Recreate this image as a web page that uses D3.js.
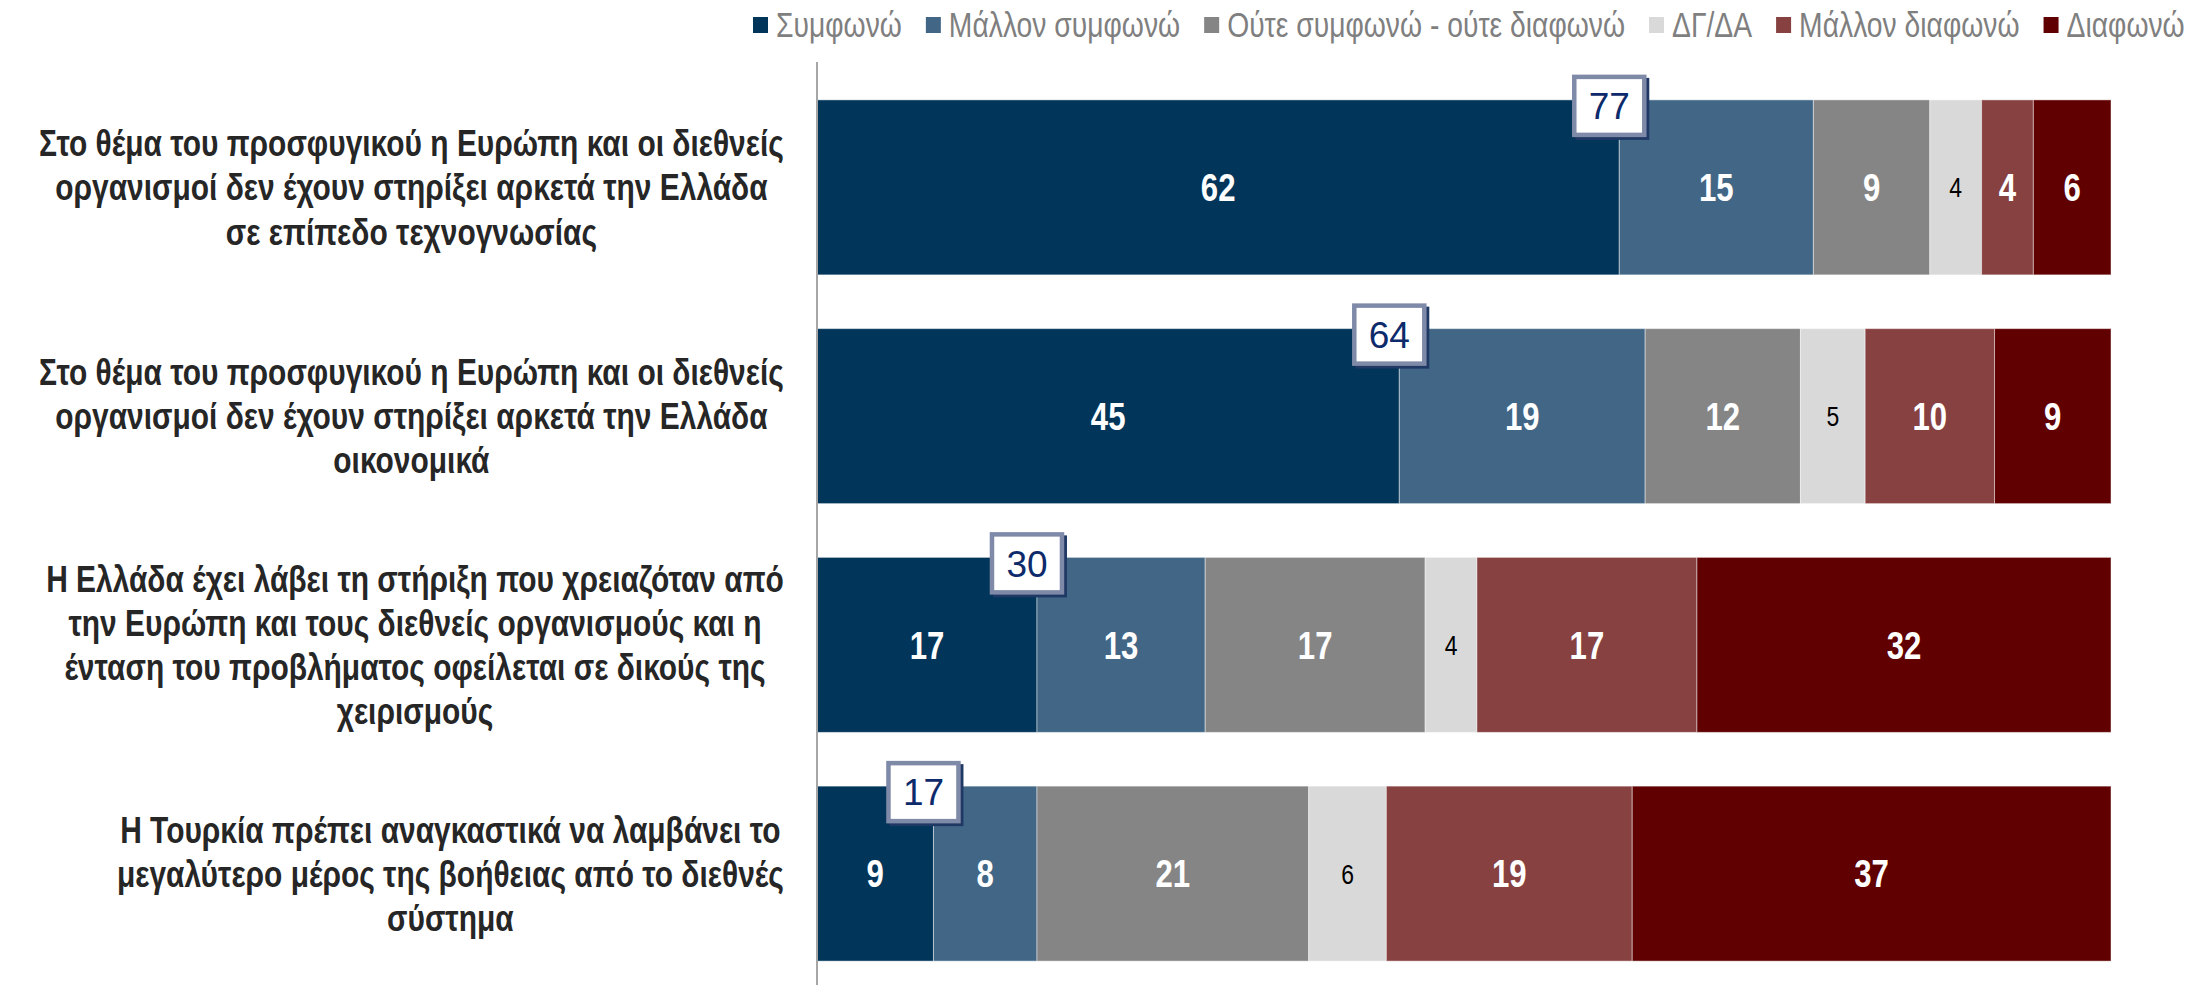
<!DOCTYPE html>
<html>
<head>
<meta charset="utf-8">
<script src="https://cdn.jsdelivr.net/npm/d3@7"></script>
<style>
  body { margin: 0; background: #fff; }
  svg { display: block; }
</style>
</head>
<body>
<div id="chart"></div>
<script>
// size of the picture
var width = 2186,
    height = 985;

// data
var series = ["Συμφωνώ", "Μάλλον συμφωνώ", "Ούτε συμφωνώ - ούτε διαφωνώ", "ΔΓ/ΔΑ", "Μάλλον διαφωνώ", "Διαφωνώ"];
var colors = ["#02355a", "#426786", "#858585", "#d9d9d9", "#884141", "#600000"];

var statements = [
    ["Στο θέμα του προσφυγικού η Ευρώπη και οι διεθνείς", "οργανισμοί δεν έχουν στηρίξει αρκετά την Ελλάδα", "σε επίπεδο τεχνογνωσίας"],
    ["Στο θέμα του προσφυγικού η Ευρώπη και οι διεθνείς", "οργανισμοί δεν έχουν στηρίξει αρκετά την Ελλάδα", "οικονομικά"],
    ["Η Ελλάδα έχει λάβει τη στήριξη που χρειαζόταν από", "την Ευρώπη και τους διεθνείς οργανισμούς και η", "ένταση του προβλήματος οφείλεται σε δικούς της", "χειρισμούς"],
    ["Η Τουρκία πρέπει αναγκαστικά να λαμβάνει το", "μεγαλύτερο μέρος της βοήθειας από το διεθνές", "σύστημα"]
];

var values = [
    [62, 15, 9, 4, 4, 6],
    [45, 19, 12, 5, 10, 9],
    [17, 13, 17, 4, 17, 32],
    [9, 8, 21, 6, 19, 37]
];

// total agreement shown in the callout box (Συμφωνώ + Μάλλον συμφωνώ)
var agreeTotals = [77, 64, 30, 17];

// no narrow font installed: squeeze Liberation Sans horizontally instead
var font = "'Liberation Sans', Arial, sans-serif";
var squeeze = 0.82;

var svg = d3.select("#chart").append("svg")
    .attr("width", width)
    .attr("height", height);

// scales
var x = d3.scaleLinear().domain([0, 100]).range([817, 2111]);
var y = d3.scaleBand()
    .domain(d3.range(statements.length))
    .range([73, 988])
    .paddingInner(0.235)
    .paddingOuter(0.1175);

// stack the rows
var rows = values.map(function (v, i) {
    var acc = 0;
    return v.map(function (d, j) {
        var seg = {row: i, key: j, x0: acc, x1: acc + d, value: d};
        acc += d;
        return seg;
    });
});

// bars
var gRow = svg.append("g").selectAll("g")
    .data(rows)
    .enter().append("g");

gRow.selectAll("rect")
    .data(function (d) { return d; })
    .enter().append("rect")
    .attr("x", function (d) { return x(d.x0); })
    .attr("y", function (d) { return y(d.row); })
    .attr("width", function (d) { return x(d.x1) - x(d.x0); })
    .attr("height", y.bandwidth())
    .attr("fill", function (d) { return colors[d.key]; })
    .attr("stroke", "rgba(255,255,255,0.45)")
    .attr("stroke-width", 1);

// value labels
gRow.selectAll("g.val")
    .data(function (d) { return d; })
    .enter().append("g")
    .attr("class", "val")
    .attr("transform", function (d) {
        return "translate(" + (x(d.x0) + x(d.x1)) / 2 + "," + (y(d.row) + y.bandwidth() / 2) + ") scale(" + squeeze + ",1)";
    })
    .append("text")
    .attr("dy", "0.36em")
    .attr("text-anchor", "middle")
    .style("font-family", font)
    .style("font-size", function (d) { return d.key === 3 ? "28px" : "38px"; })
    .style("font-weight", function (d) { return d.key === 3 ? "normal" : "bold"; })
    .attr("fill", function (d) { return d.key === 3 ? "#000" : "#fff"; })
    .text(function (d) { return d.value; });

// vertical axis line
svg.append("line")
    .attr("x1", x(0)).attr("x2", x(0))
    .attr("y1", 62).attr("y2", height)
    .attr("stroke", "#a6a6a6")
    .attr("stroke-width", 2);

// statement labels: block right-aligned, lines centred inside it
var lineH = 44;
var labelRight = 784;
statements.forEach(function (lines, i) {
    var cy = y(i) + y.bandwidth() / 2;
    var g = svg.append("g");
    var inner = g.append("g");
    var texts = inner.selectAll("text")
        .data(lines)
        .enter().append("text")
        .attr("x", 0)
        .attr("y", function (d, k) { return cy + (k - (lines.length - 1) / 2) * lineH; })
        .attr("dy", "0.36em")
        .attr("text-anchor", "middle")
        .style("font-family", font)
        .style("font-size", "36.5px")
        .style("font-weight", "bold")
        .attr("fill", "#262626")
        .text(String);
    var maxW = d3.max(texts.nodes(), function (n) { return n.getComputedTextLength(); }) * squeeze;
    g.attr("transform", "translate(" + (labelRight - maxW / 2) + ",0)");
    inner.attr("transform", "scale(" + squeeze + ",1)");
});

// callout boxes with total agreement
var boxW = 74, boxH = 62;
var callout = svg.append("g").selectAll("g")
    .data(agreeTotals)
    .enter().append("g")
    .attr("transform", function (d, i) {
        var cx = x(values[i][0]) - 10;
        var top = y(i) - 25;
        return "translate(" + (cx - boxW / 2) + "," + top + ")";
    });

callout.append("rect") // shadow
    .attr("x", 3).attr("y", 3)
    .attr("width", boxW).attr("height", boxH)
    .attr("fill", "#1f3864");

callout.append("rect")
    .attr("x", 2).attr("y", 2)
    .attr("width", boxW - 4).attr("height", boxH - 4)
    .attr("fill", "#fff")
    .attr("stroke", "#7f8aa8")
    .attr("stroke-width", 4.5);

callout.append("text")
    .attr("x", boxW / 2)
    .attr("y", boxH / 2)
    .attr("dy", "0.36em")
    .attr("text-anchor", "middle")
    .style("font-family", font)
    .style("font-size", "37px")
    .attr("fill", "#0d2a6b")
    .text(String);

// legend, flowing left to right
var legend = svg.append("g");
var lx = 753;
series.forEach(function (s, i) {
    legend.append("rect")
        .attr("x", lx).attr("y", 17)
        .attr("width", 15).attr("height", 16)
        .attr("fill", colors[i]);
    var tg = legend.append("g")
        .attr("transform", "translate(" + (lx + 23) + ",25) scale(" + squeeze + ",1)");
    var t = tg.append("text")
        .attr("dy", "0.36em")
        .style("font-family", font)
        .style("font-size", "34.5px")
        .attr("fill", "#7f7f7f")
        .text(s);
    lx += 23 + t.node().getComputedTextLength() * squeeze + 24;
});
</script>
</body>
</html>
